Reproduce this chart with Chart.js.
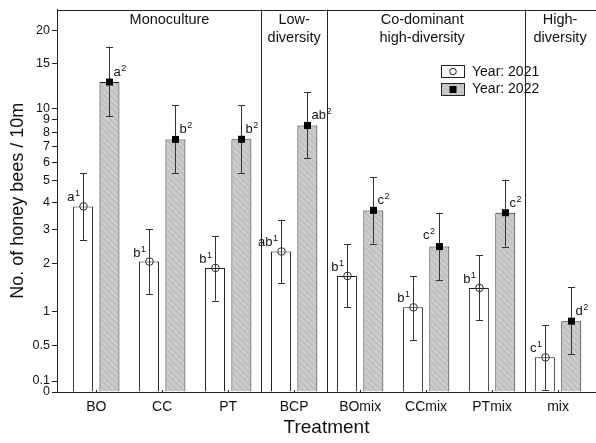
<!DOCTYPE html>
<html>
<head>
<meta charset="utf-8">
<script src="https://cdn.jsdelivr.net/npm/chart.js@4.4.1/dist/chart.umd.min.js"></script>
<style>
  html, body { margin: 0; padding: 0; background: #fff; }
</style>
</head>
<body>
<canvas id="chart" width="596" height="443"></canvas>
<script>
// ===== Data =====
const categories = ['BO', 'CC', 'PT', 'BCP', 'BOmix', 'CCmix', 'PTmix', 'mix'];
const mean2021 = [3.85, 2.05, 1.89, 2.32, 1.70, 1.07, 1.44, 0.35];
const low2021  = [2.67, 1.32, 1.19, 1.54, 1.07, 0.57, 0.86, 0.02];
const high2021 = [5.40, 3.00, 2.79, 3.34, 2.53, 1.70, 2.21, 0.78];
const mean2022 = [12.7, 7.49, 7.50, 8.54, 3.69, 2.46, 3.60, 0.84];
const low2022  = [9.31, 5.40, 5.40, 6.25, 2.55, 1.61, 2.46, 0.39];
const high2022 = [17.4, 10.27, 10.3, 11.6, 5.21, 3.60, 5.07, 1.45];
const letters2021 = ['a', 'b', 'b', 'ab', 'b', 'b', 'b', 'c'];
const letters2022 = ['a', 'b', 'b', 'ab', 'c', 'c', 'c', 'd'];
const yTicks = [0, 0.1, 0.5, 1, 2, 3, 4, 5, 6, 7, 8, 9, 10, 15, 20];
const groupNames = [['Monoculture'], ['Low-', 'diversity'], ['Co-dominant', 'high-diversity'], ['High-', 'diversity']];
const groupBreaks = [2.5, 3.5, 6.5];

// label placement (in category units) and sides
const groupLabelX = [1.11, 3.0, 4.94, 7.03];
const side2022 = ['r', 'r', 'r', 'r', 'r', 'l', 'r', 'r'];

const FONT = 'Arial, "Liberation Sans", sans-serif';
const TXT = '#111';
const LINE = '#222';

// log(x + c) axis transform
const C = 1.05;
function tf(v) { return Math.log10((v + C) / C); }

const canvas = document.getElementById('chart');
const ctx0 = canvas.getContext('2d');

function hatch() {
    const p = document.createElement('canvas');
    p.width = 6; p.height = 6;
    const g = p.getContext('2d');
    g.fillStyle = '#c2c2c2';
    g.fillRect(0, 0, 6, 6);
    g.strokeStyle = '#d3d3d3';
    g.lineWidth = 1.2;
    g.beginPath();
    g.moveTo(-1, -1); g.lineTo(7, 7);
    g.moveTo(-4, 2); g.lineTo(4, 10);
    g.moveTo(2, -4); g.lineTo(10, 4);
    g.stroke();
    return ctx0.createPattern(p, 'repeat');
}
const grey = hatch();

function supText(ctx, main, sup, x, y, align) {
    ctx.font = '13px ' + FONT;
    const w1 = ctx.measureText(main).width;
    ctx.font = '9px ' + FONT;
    const w2 = ctx.measureText(sup).width;
    let sx = align === 'l' ? x - w1 - w2 : x;
    ctx.textAlign = 'left';
    ctx.textBaseline = 'alphabetic';
    ctx.font = '13px ' + FONT;
    ctx.fillText(main, sx, y);
    ctx.font = '9px ' + FONT;
    ctx.fillText(sup, sx + w1 + 0.5, y - 5);
}

// ===== Overlay: error bars, markers, letters, groups, legend =====
const overlay = {
    id: 'overlay',
    afterDatasetsDraw(chart) {
        const { ctx, chartArea: a, scales: { x, y } } = chart;
        ctx.save();
        ctx.strokeStyle = LINE;
        ctx.lineWidth = 1;

        // frame top + group separators
        ctx.beginPath();
        const top = Math.round(a.top) + 0.5;
        ctx.moveTo(a.left, top);
        ctx.lineTo(a.right, top);
        groupBreaks.forEach(v => {
            const px = Math.round(x.getPixelForValue(v)) + 0.5;
            ctx.moveTo(px, a.top);
            ctx.lineTo(px, a.bottom);
        });
        // small inward ticks on the x axis
        categories.forEach((c, i) => {
            const px = Math.round(x.getPixelForValue(i)) + 0.5;
            ctx.moveTo(px, a.bottom);
            ctx.lineTo(px, a.bottom - 2);
        });
        ctx.stroke();

        const series = [
            { mean: mean2021, low: low2021, high: high2021, letters: letters2021, sup: '1', marker: 'circle' },
            { mean: mean2022, low: low2022, high: high2022, letters: letters2022, sup: '2', marker: 'square' }
        ];
        series.forEach((s, di) => {
            const meta = chart.getDatasetMeta(di);
            meta.data.forEach((bar, i) => {
                const cx = Math.round(bar.x) + 0.5;
                const yH = y.getPixelForValue(tf(s.high[i]));
                const yL = y.getPixelForValue(tf(s.low[i]));
                const yM = y.getPixelForValue(tf(s.mean[i]));
                ctx.strokeStyle = '#333';
                ctx.beginPath();
                ctx.moveTo(cx, yH); ctx.lineTo(cx, yL);
                ctx.moveTo(cx - 3.5, Math.round(yH) + 0.5); ctx.lineTo(cx + 3.5, Math.round(yH) + 0.5);
                ctx.moveTo(cx - 3.5, Math.round(yL) + 0.5); ctx.lineTo(cx + 3.5, Math.round(yL) + 0.5);
                ctx.stroke();

                ctx.fillStyle = '#000';
                if (s.marker === 'circle') {
                    ctx.beginPath();
                    ctx.arc(cx, yM, 3.8, 0, Math.PI * 2);
                    ctx.stroke();
                } else {
                    ctx.fillRect(cx - 3.5, yM - 3.5, 7, 7);
                }

                ctx.fillStyle = TXT;
                if (di === 0) {
                    supText(ctx, s.letters[i], s.sup, cx - 4, yM - 5, 'l');
                } else if (side2022[i] === 'l') {
                    supText(ctx, s.letters[i], s.sup, cx - 5, yM - 8, 'l');
                } else {
                    supText(ctx, s.letters[i], s.sup, cx + 4, yM - 6, 'r');
                }
            });
        });

        // group labels
        ctx.fillStyle = TXT;
        ctx.font = '14.5px ' + FONT;
        ctx.textAlign = 'center';
        ctx.textBaseline = 'middle';
        groupNames.forEach((lines, gi) => {
            const px = x.getPixelForValue(groupLabelX[gi]);
            lines.forEach((t, li) => ctx.fillText(t, px, 20 + li * 17.5));
        });

        // legend
        ctx.strokeStyle = LINE;
        ctx.fillStyle = '#fff';
        ctx.fillRect(441, 65.5, 23, 12);
        ctx.strokeRect(441.5, 65.5, 23, 12);
        ctx.beginPath();
        ctx.arc(453, 71.5, 3.3, 0, Math.PI * 2);
        ctx.stroke();
        ctx.fillStyle = grey;
        ctx.fillRect(441, 83, 23, 12);
        ctx.strokeRect(441.5, 83.5, 23, 12);
        ctx.fillStyle = '#000';
        ctx.fillRect(449.5, 86, 7, 7);

        ctx.fillStyle = TXT;
        ctx.font = '14px ' + FONT;
        ctx.textAlign = 'left';
        ctx.textBaseline = 'middle';
        ctx.fillText('Year: 2021', 472, 72);
        ctx.fillText('Year: 2022', 472, 89.5);
        ctx.restore();
    }
};

new Chart(canvas, {
    type: 'bar',
    data: {
        datasets: [
            {
                label: 'Year: 2021',
                data: categories.map((c, i) => ({ x: i, y: tf(mean2021[i]) })),
                backgroundColor: '#fff',
                borderColor: LINE,
                borderWidth: 1,
                categoryPercentage: 0.8,
                barPercentage: 0.757
            },
            {
                label: 'Year: 2022',
                data: categories.map((c, i) => ({ x: i, y: tf(mean2022[i]) })),
                backgroundColor: grey,
                borderColor: LINE,
                borderWidth: 1,
                categoryPercentage: 0.8,
                barPercentage: 0.757
            }
        ]
    },
    options: {
        responsive: false,
        animation: false,
        devicePixelRatio: 1,
        layout: { padding: { top: 5, right: 0, bottom: 0, left: 0 } },
        plugins: {
            legend: { display: false },
            tooltip: { enabled: false }
        },
        scales: {
            x: {
                type: 'linear',
                offset: false,
                min: -0.595,
                max: 7.575,
                afterBuildTicks: s => { s.ticks = categories.map((c, i) => ({ value: i })); },
                afterFit: s => { s.height = 51; },
                ticks: {
                    autoSkip: false,
                    maxRotation: 0,
                    padding: 7,
                    color: TXT,
                    font: { family: FONT, size: 14 },
                    callback: v => categories[v]
                },
                grid: { display: false, drawTicks: false, offset: false },
                border: { display: true, color: LINE, width: 1 },
                title: {
                    display: true,
                    text: 'Treatment',
                    color: TXT,
                    font: { family: FONT, size: 19 },
                    padding: { top: 0, bottom: 4 }
                }
            },
            y: {
                min: 0,
                max: 1.3786,
                afterBuildTicks: s => { s.ticks = yTicks.map(v => ({ value: tf(v) })); },
                afterFit: s => { s.width = 57; },
                ticks: {
                    autoSkip: false,
                    padding: 2,
                    color: TXT,
                    font: { family: FONT, size: 12.5 },
                    callback: (v, i) => String(yTicks[i])
                },
                grid: { drawOnChartArea: false, drawTicks: true, tickLength: 5, color: LINE },
                border: { display: true, color: LINE, width: 1 },
                title: {
                    display: true,
                    text: 'No. of honey bees / 10m',
                    color: TXT,
                    font: { family: FONT, size: 18 },
                    padding: { top: 7, bottom: 0 }
                }
            }
        }
    },
    plugins: [overlay]
});
</script>
</body>
</html>
